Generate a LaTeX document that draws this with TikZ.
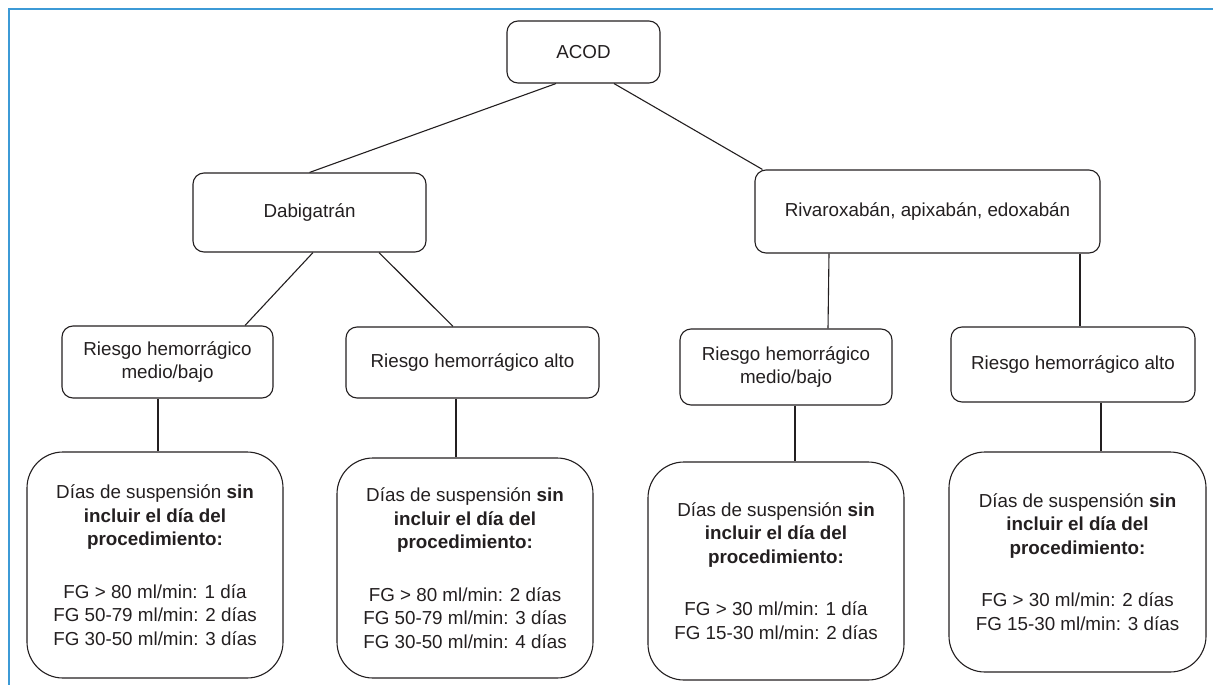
\documentclass[tikz,border=0pt]{standalone}
\usepackage{fontspec}
\setmainfont{Liberation Sans}
\definecolor{frameblue}{HTML}{3C9AD6}
\definecolor{txt}{HTML}{231F20}
\tikzset{
  box/.style={draw=txt, line width=1.1pt, rounded corners=11pt, text=txt, align=center,
    inner sep=0pt, font=\fontsize{18.8}{23.5}\selectfont},
  bigbox/.style={box, rounded corners=36pt},
  conn/.style={draw=txt, line width=1.1pt},
}
\begin{document}
\begin{tikzpicture}[x=1pt,y=-1pt]
\useasboundingbox (0,0) rectangle (1213,685);
\draw[frameblue, line width=2.2pt] (9,685) -- (9,9) -- (1213,9);

\node[box, minimum width=153pt, minimum height=62pt] (acod) at (583.5,52) {ACOD};
\node[box, minimum width=233pt, minimum height=79pt] (dab) at (309.5,212.5) {Dabigatrán};
\node[box, minimum width=345pt, minimum height=83pt] (riva) at (927.5,211.5) {Rivaroxabán, apixabán, edoxabán};

\node[box, minimum width=211pt, minimum height=72pt] (lmb) at (167.5,362) {Riesgo hemorrágico\\medio/bajo};
\node[box, minimum width=253pt, minimum height=71pt] (lal) at (472.5,362.5) {Riesgo hemorrágico alto};
\node[box, minimum width=212pt, minimum height=76pt] (rmb) at (786,367) {Riesgo hemorrágico\\medio/bajo};
\node[box, minimum width=244pt, minimum height=75pt] (ral) at (1073,364.5) {Riesgo hemorrágico alto};

\node[bigbox, minimum width=256pt, minimum height=226pt] (b1) at (155,565)
  {Días de suspensión \textbf{sin}\\\textbf{incluir el día del}\\\textbf{procedimiento:}\\[29pt]FG > 80 ml/min: 1 día\\FG 50-79 ml/min: 2 días\\FG 30-50 ml/min: 3 días};
\node[bigbox, minimum width=256pt, minimum height=220pt] (b2) at (465,568)
  {Días de suspensión \textbf{sin}\\\textbf{incluir el día del}\\\textbf{procedimiento:}\\[29pt]FG > 80 ml/min: 2 días\\FG 50-79 ml/min: 3 días\\FG 30-50 ml/min: 4 días};
\node[bigbox, minimum width=256pt, minimum height=218pt] (b3) at (776,571)
  {Días de suspensión \textbf{sin}\\\textbf{incluir el día del}\\\textbf{procedimiento:}\\[29pt]FG > 30 ml/min: 1 día\\FG 15-30 ml/min: 2 días};
\node[bigbox, minimum width=257pt, minimum height=220pt] (b4) at (1077.5,562)
  {Días de suspensión \textbf{sin}\\\textbf{incluir el día del}\\\textbf{procedimiento:}\\[29pt]FG > 30 ml/min: 2 días\\FG 15-30 ml/min: 3 días};

\draw[conn] ([xshift=-27.5pt]acod.south) -- (dab.north);
\draw[conn] ([xshift=30.5pt]acod.south) -- ([xshift=8pt]riva.north west);
\draw[conn] ([xshift=3.5pt]dab.south) -- ([xshift=77.5pt]lmb.north);
\draw[conn] ([xshift=69.5pt]dab.south) -- ([xshift=-19.5pt]lal.north);
\draw[conn] ([xshift=-98.5pt]riva.south) -- ([xshift=42pt]rmb.north);
\draw[conn] ([xshift=152.5pt]riva.south) -- ([xshift=7pt]ral.north);
\draw[conn] ([xshift=-9.5pt]lmb.south) -- ([xshift=3pt]b1.north);
\draw[conn] ([xshift=-16.5pt]lal.south) -- ([xshift=-9pt]b2.north);
\draw[conn] ([xshift=9pt]rmb.south) -- ([xshift=19pt]b3.north);
\draw[conn] ([xshift=28pt]ral.south) -- ([xshift=23.5pt]b4.north);
\end{tikzpicture}
\end{document}
